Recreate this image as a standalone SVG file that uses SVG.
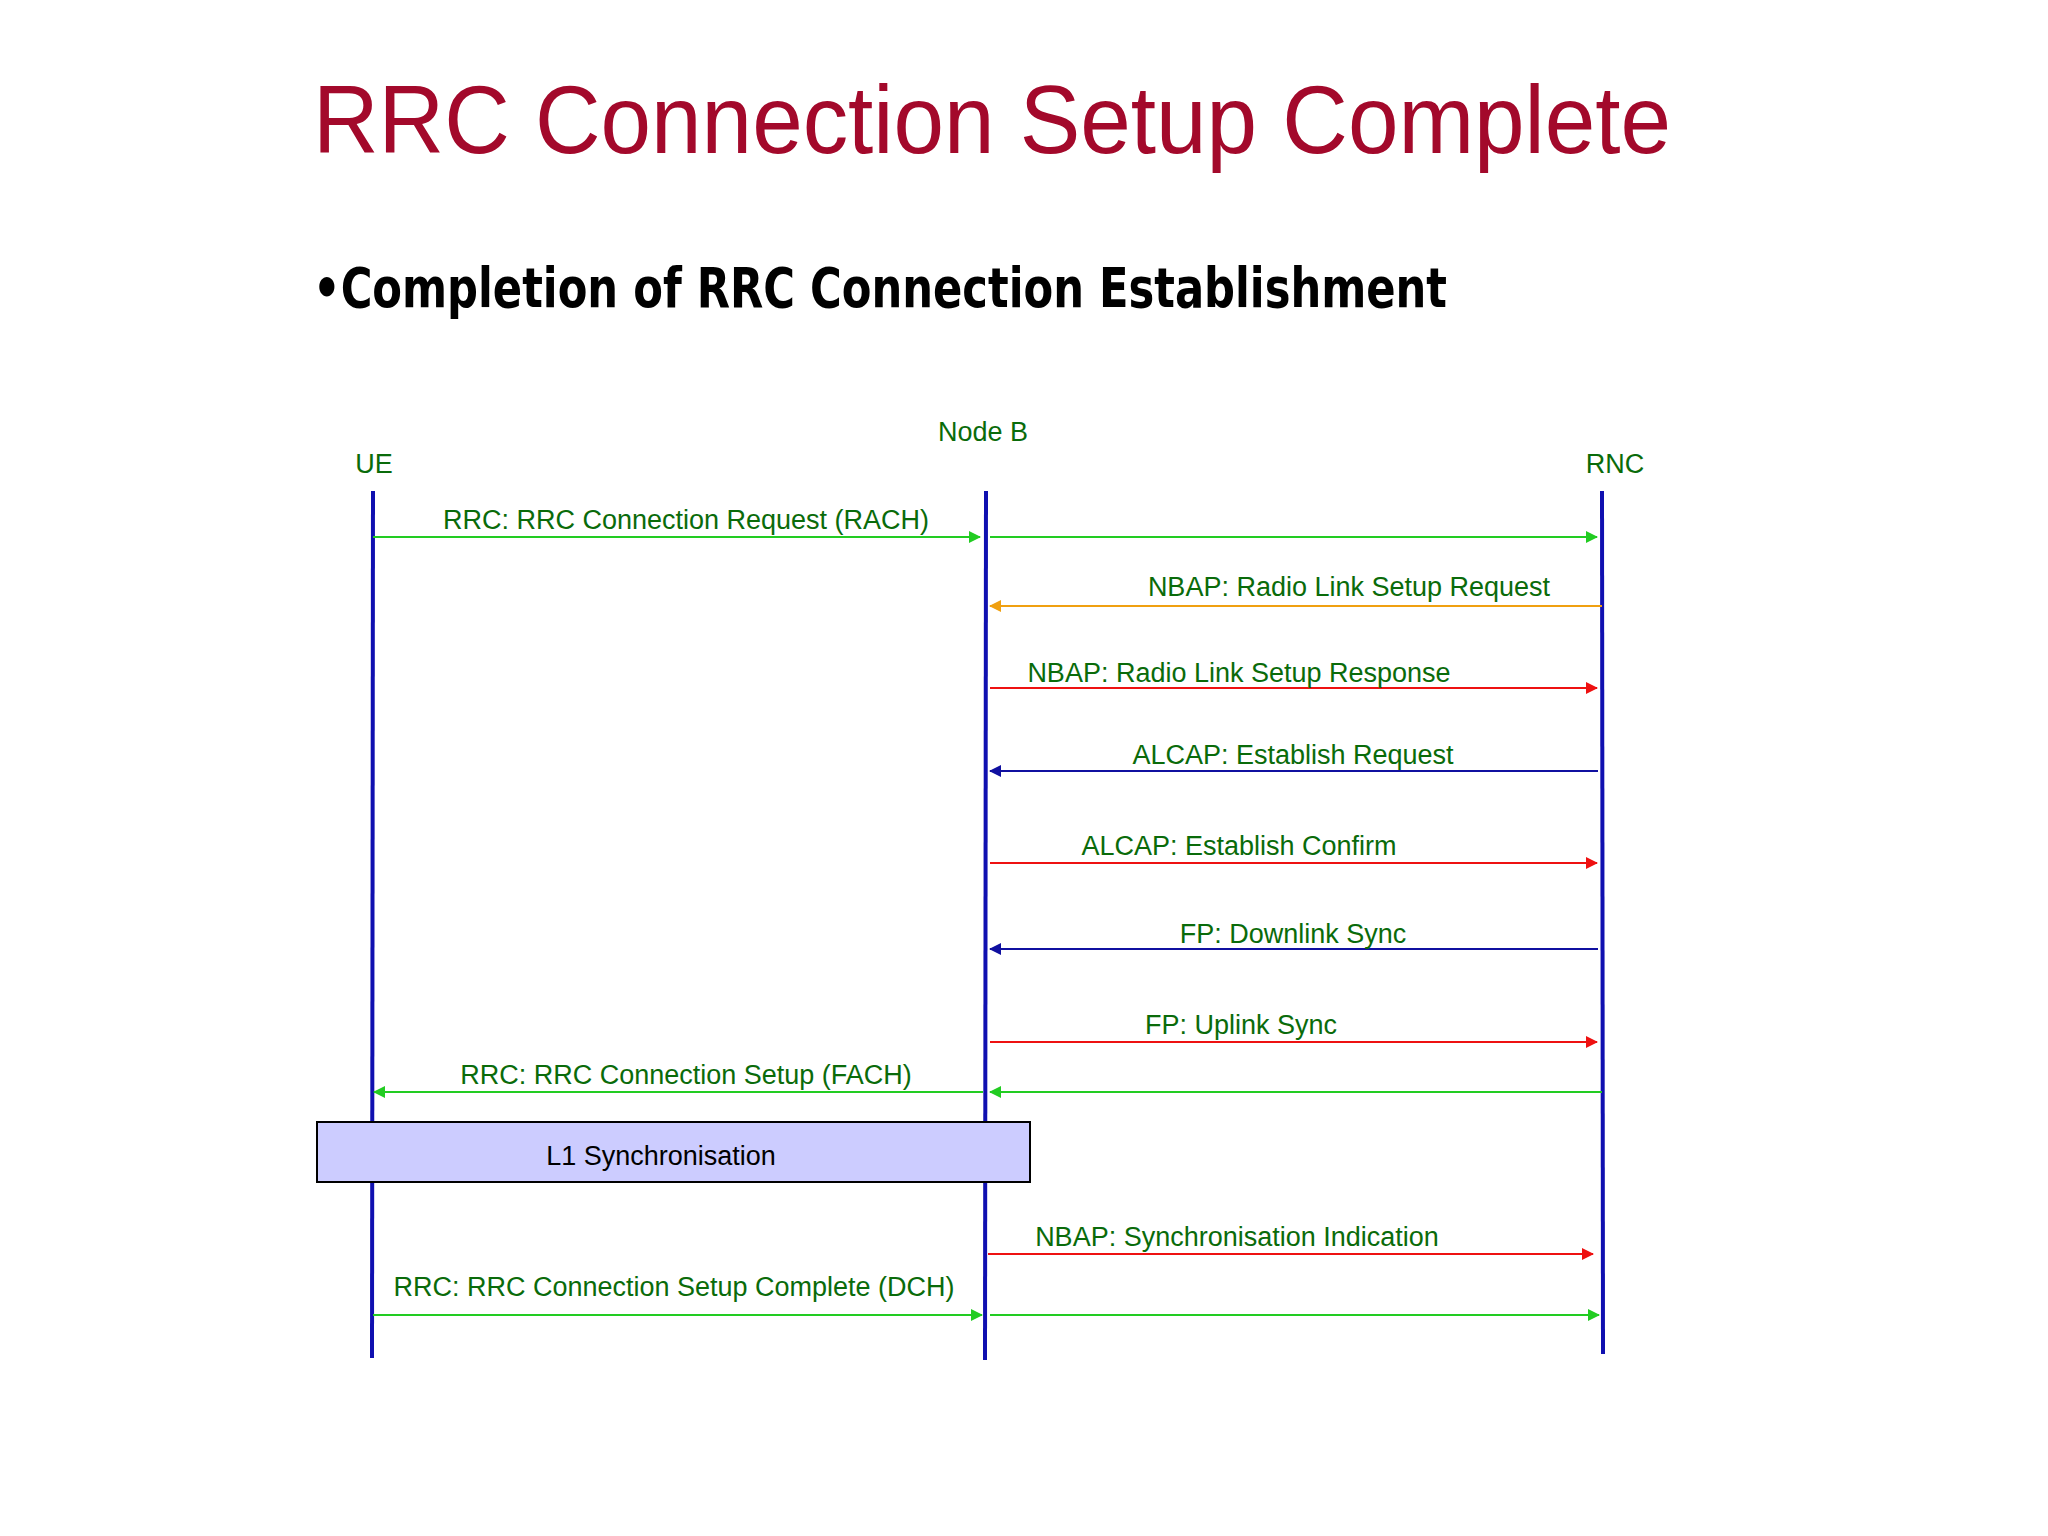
<svg xmlns="http://www.w3.org/2000/svg" width="2048" height="1536" viewBox="0 0 2048 1536">
<defs>
<style>
.lbl{font-family:"Liberation Sans",Arial,sans-serif;font-size:27px;fill:#0a6b0a;text-anchor:middle}
.life{stroke:#1010b0;stroke-width:4}
.g{stroke:#22cc22;stroke-width:2;fill:none;marker-end:url(#ag)}
.r{stroke:#ee1111;stroke-width:2;fill:none;marker-end:url(#ar)}
.b{stroke:#1010a0;stroke-width:2;fill:none;marker-end:url(#ab)}
.o{stroke:#f0a010;stroke-width:2;fill:none;marker-end:url(#ao)}
</style>
<marker id="ag" markerWidth="12" markerHeight="12" refX="11" refY="6" orient="auto" markerUnits="userSpaceOnUse"><path d="M0,0L12,6L0,12z" fill="#22cc22"/></marker>
<marker id="ar" markerWidth="12" markerHeight="12" refX="11" refY="6" orient="auto" markerUnits="userSpaceOnUse"><path d="M0,0L12,6L0,12z" fill="#ee1111"/></marker>
<marker id="ab" markerWidth="12" markerHeight="12" refX="11" refY="6" orient="auto" markerUnits="userSpaceOnUse"><path d="M0,0L12,6L0,12z" fill="#1010a0"/></marker>
<marker id="ao" markerWidth="12" markerHeight="12" refX="11" refY="6" orient="auto" markerUnits="userSpaceOnUse"><path d="M0,0L12,6L0,12z" fill="#f0a010"/></marker>
</defs>
<rect width="2048" height="1536" fill="#ffffff"/>
<text x="313" y="153" font-family="Liberation Sans,Arial,sans-serif" font-size="97" fill="#a3092b" textLength="1358" lengthAdjust="spacingAndGlyphs">RRC Connection Setup Complete</text>
<text x="313" y="307" font-family="DejaVu Sans Condensed,DejaVu Sans,sans-serif" font-weight="bold" font-size="56" fill="#000" textLength="1134" lengthAdjust="spacingAndGlyphs">•Completion of RRC Connection Establishment</text>
<g id="ue"><text class="lbl" x="374" y="473">UE</text><line class="life" x1="373" y1="491" x2="372" y2="1358"/></g>
<g id="nodeb"><text class="lbl" x="983" y="441">Node B</text><line class="life" x1="986" y1="491" x2="985" y2="1360"/></g>
<g id="rnc"><text class="lbl" x="1615" y="473">RNC</text><line class="life" x1="1602" y1="491" x2="1603" y2="1354"/></g>
<g id="connectors">
<path class="g" d="M373,537H980"/><path class="g" d="M990,537H1597"/>
<text class="lbl" x="686" y="529">RRC: RRC Connection Request (RACH)</text>
<path class="o" d="M1602,606H990"/>
<text class="lbl" x="1349" y="596">NBAP: Radio Link Setup Request</text>
<path class="r" d="M990,688H1597"/>
<text class="lbl" x="1239" y="682">NBAP: Radio Link Setup Response</text>
<path class="b" d="M1598,771H990"/>
<text class="lbl" x="1293" y="764">ALCAP: Establish Request</text>
<path class="r" d="M990,863H1597"/>
<text class="lbl" x="1239" y="855">ALCAP: Establish Confirm</text>
<path class="b" d="M1598,949H990"/>
<text class="lbl" x="1293" y="943">FP: Downlink Sync</text>
<path class="r" d="M990,1042H1597"/>
<text class="lbl" x="1241" y="1034">FP: Uplink Sync</text>
<path class="g" d="M1602,1092H990"/><path class="g" d="M983,1092H374"/>
<text class="lbl" x="686" y="1084">RRC: RRC Connection Setup (FACH)</text>
<path class="r" d="M988,1254H1593"/>
<text class="lbl" x="1237" y="1246">NBAP: Synchronisation Indication</text>
<path class="g" d="M373,1315H982"/><path class="g" d="M990,1315H1599"/>
<text class="lbl" x="674" y="1296">RRC: RRC Connection Setup Complete (DCH)</text>
</g>
<g id="l1sync"><rect x="317" y="1122" width="713" height="60" fill="#ccccff" stroke="#000" stroke-width="2"/>
<text x="661" y="1165" font-family="Liberation Sans,Arial,sans-serif" font-size="27" fill="#000" text-anchor="middle">L1 Synchronisation</text></g>
</svg>
